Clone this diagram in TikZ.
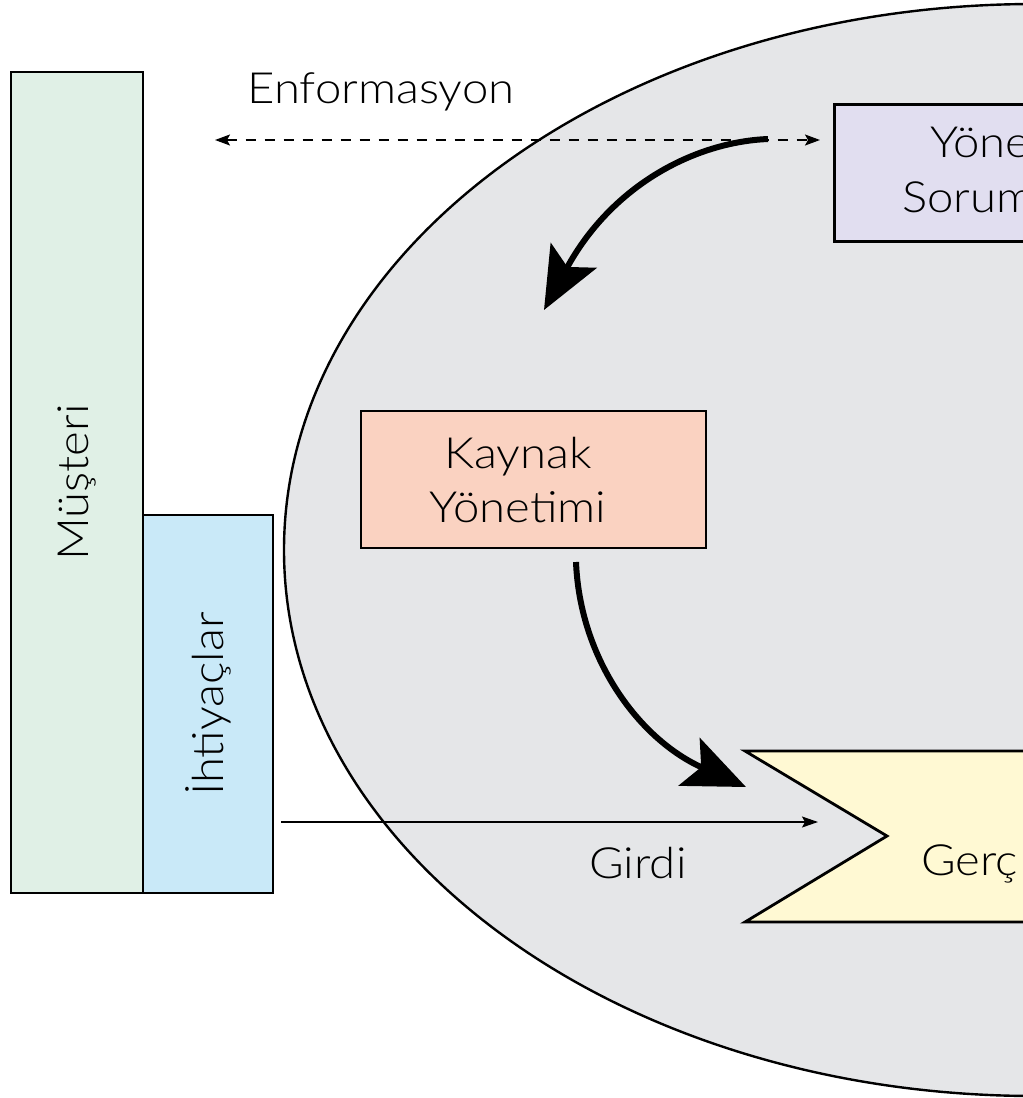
\documentclass[tikz,border=0pt]{standalone}
\usepackage{fontspec}
\setmainfont{Lato Light}[FakeStretch=1.1]
\usetikzlibrary{arrows.meta}
\definecolor{musteriC}{HTML}{E0F0E6}
\definecolor{ihtiyacC}{HTML}{C9E9F8}
\definecolor{ellC}{HTML}{E5E6E8}
\definecolor{yonC}{HTML}{E1DEF0}
\definecolor{kaynakC}{HTML}{FAD2C1}
\definecolor{gercC}{HTML}{FFF9D3}
\tikzset{thinhead/.tip={Stealth[length=15pt,width=11pt,inset=3pt]}}
\begin{document}
\begin{tikzpicture}[x=1pt,y=-1pt,
  box/.style={draw=black,line width=2.8pt},
  lbl/.style={font=\fontsize{43}{54}\selectfont,inner sep=0pt},
  bigarrow/.style={line width=6pt,-{Stealth[length=62pt,width=52pt,inset=13pt]}},
  thinarrow/.style={line width=1.4pt,-{Stealth[length=16pt,width=11pt,inset=3pt]}},
]
\useasboundingbox (0,0) rectangle (1023,1098);
\clip (0,0) rectangle (1023,1098);
% organisation ellipse
\draw[fill=ellC,line width=2.4pt] (1035,550) ellipse [x radius=751pt, y radius=546pt];
% customer column
\node[box,fill=musteriC,rotate=90,minimum width=821pt,minimum height=132pt,lbl] (musteri) at (77,482.5) {Müşteri};
\node[box,fill=ihtiyacC,rotate=90,minimum width=378pt,minimum height=130pt,lbl] (ihtiyac) at (208,704) {İhtiyaçlar};
% management box
\node[box,fill=yonC,minimum width=400pt,minimum height=137pt,anchor=north west] (yonetim) at (833,103) {};
\node[lbl,anchor=base west] (yonT1) at (930,157) {Yöne};
\node[lbl,anchor=base west] (yonT2) at (902,212) {Sorum};
% resource box
\node[box,fill=kaynakC,minimum width=345pt,minimum height=137pt] (kaynak) at (533.5,479.5) {};
\node[lbl,align=center] (kaynakT) at (518,480) {Kaynak\\Yönetimi};
% realisation shape
\draw[box,fill=gercC] (745,751) -- (1200,751) -- (1200,922) -- (745,922) -- (887,836) -- cycle;
\coordinate (gerc) at (887,836);
\node[lbl,anchor=base west] (gercT) at (921,875) {Gerç};
% information
\node[lbl,anchor=base] (info) at (381,103) {Enformasyon};
\coordinate (infoL) at (215,140);
\coordinate (infoR) at (820,140);
\draw[line width=1.4pt,dash pattern=on 10pt off 9pt,thinhead-thinhead] (infoL) -- (infoR);
% input
\coordinate (girdiS) at (281,822);
\coordinate (girdiE) at (818,822);
\draw[thinarrow] (girdiS) -- (girdiE);
\node[lbl,anchor=base] (girdi) at (638,878) {Girdi};
% thick curved arrows
\coordinate (c1s) at (768,139);
\coordinate (c1e) at (544,310);
\draw[bigarrow] (c1s) .. controls (695,142) and (612,185) .. (c1e);
\coordinate (c2s) at (576,562);
\coordinate (c2e) at (746,787);
\draw[bigarrow] (c2s) .. controls (580,660) and (640,740) .. (c2e);
\end{tikzpicture}
\end{document}
